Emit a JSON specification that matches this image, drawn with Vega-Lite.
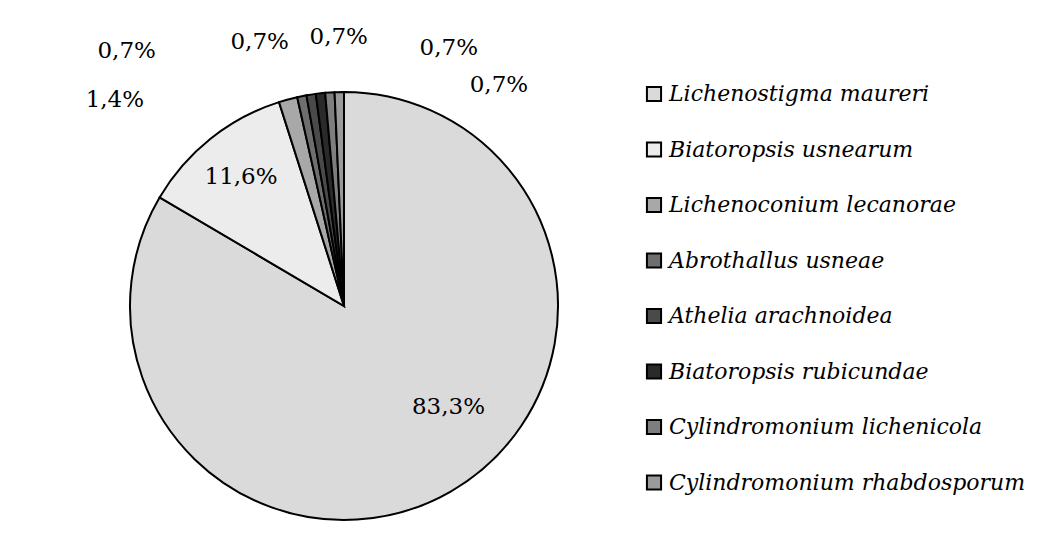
{
  "$schema": "https://vega.github.io/schema/vega-lite/v6.json",
  "width": 688,
  "height": 612,
  "autosize": {"type": "pad"},
  "padding": 0,
  "background": "white",
  "config": {"view": {"stroke": null}, "font": "DejaVu Serif"},
  "data": {
    "values": [
      {"species": "Lichenostigma maureri", "value": 83.3, "label": "83,3%", "i": 1},
      {"species": "Biatoropsis usnearum", "value": 11.6, "label": "11,6%", "i": 2},
      {"species": "Lichenoconium lecanorae", "value": 1.4, "label": "1,4%", "i": 3},
      {"species": "Abrothallus usneae", "value": 0.7, "label": "0,7%", "i": 4},
      {"species": "Athelia arachnoidea", "value": 0.7, "label": "0,7%", "i": 5},
      {"species": "Biatoropsis rubicundae", "value": 0.7, "label": "0,7%", "i": 6},
      {"species": "Cylindromonium lichenicola", "value": 0.7, "label": "0,7%", "i": 7},
      {"species": "Cylindromonium rhabdosporum", "value": 0.7, "label": "0,7%", "i": 8}
    ]
  },
  "encoding": {
    "theta": {"field": "value", "type": "quantitative", "stack": true},
    "order": {"field": "i", "type": "quantitative"}
  },
  "layer": [
    {
      "mark": {"type": "arc", "outerRadius": 214, "stroke": "black", "strokeWidth": 2},
      "encoding": {
        "color": {
          "field": "species",
          "type": "nominal",
          "scale": {
            "domain": ["Lichenostigma maureri", "Biatoropsis usnearum", "Lichenoconium lecanorae", "Abrothallus usneae", "Athelia arachnoidea", "Biatoropsis rubicundae", "Cylindromonium lichenicola", "Cylindromonium rhabdosporum"],
            "range": ["#dadada", "#ececec", "#a8a8a8", "#6e6e6e", "#4a4a4a", "#2a2a2a", "#7e7e7e", "#9a9a9a"]
          },
          "legend": {
            "title": null,
            "orient": "none",
            "legendX": 643,
            "legendY": 83,
            "symbolType": "square",
            "symbolSize": 200,
            "symbolStrokeColor": "black",
            "symbolStrokeWidth": 2,
            "labelFont": "DejaVu Serif",
            "labelFontStyle": "italic",
            "labelFontSize": 22,
            "labelColor": "black",
            "labelOffset": 4,
            "labelLimit": 500,
            "rowPadding": 31.5
          }
        }
      }
    },
    {
      "mark": {"type": "text", "radius": 146, "dx": 32, "dy": -26, "fontSize": 23, "color": "black", "align": "center", "baseline": "middle"},
      "encoding": {"text": {"condition": {"test": "datum.i === 1", "field": "label"}, "value": ""}}
    },
    {
      "mark": {"type": "text", "radius": 165, "dx": 0, "dy": 0, "fontSize": 23, "color": "black", "align": "center", "baseline": "middle"},
      "encoding": {"text": {"condition": {"test": "datum.i === 2", "field": "label"}, "value": ""}}
    },
    {
      "mark": {"type": "text", "radius": 230, "dx": -169, "dy": 16, "fontSize": 23, "color": "black", "align": "center", "baseline": "middle"},
      "encoding": {"text": {"condition": {"test": "datum.i === 3", "field": "label"}, "value": ""}}
    },
    {
      "mark": {"type": "text", "radius": 230, "dx": -172, "dy": -30, "fontSize": 23, "color": "black", "align": "center", "baseline": "middle"},
      "encoding": {"text": {"condition": {"test": "datum.i === 4", "field": "label"}, "value": ""}}
    },
    {
      "mark": {"type": "text", "radius": 230, "dx": -49, "dy": -37, "fontSize": 23, "color": "black", "align": "center", "baseline": "middle"},
      "encoding": {"text": {"condition": {"test": "datum.i === 5", "field": "label"}, "value": ""}}
    },
    {
      "mark": {"type": "text", "radius": 230, "dx": 20, "dy": -40, "fontSize": 23, "color": "black", "align": "center", "baseline": "middle"},
      "encoding": {"text": {"condition": {"test": "datum.i === 6", "field": "label"}, "value": ""}}
    },
    {
      "mark": {"type": "text", "radius": 230, "dx": 120, "dy": -29, "fontSize": 23, "color": "black", "align": "center", "baseline": "middle"},
      "encoding": {"text": {"condition": {"test": "datum.i === 7", "field": "label"}, "value": ""}}
    },
    {
      "mark": {"type": "text", "radius": 230, "dx": 160, "dy": 9, "fontSize": 23, "color": "black", "align": "center", "baseline": "middle"},
      "encoding": {"text": {"condition": {"test": "datum.i === 8", "field": "label"}, "value": ""}}
    }
  ]
}
